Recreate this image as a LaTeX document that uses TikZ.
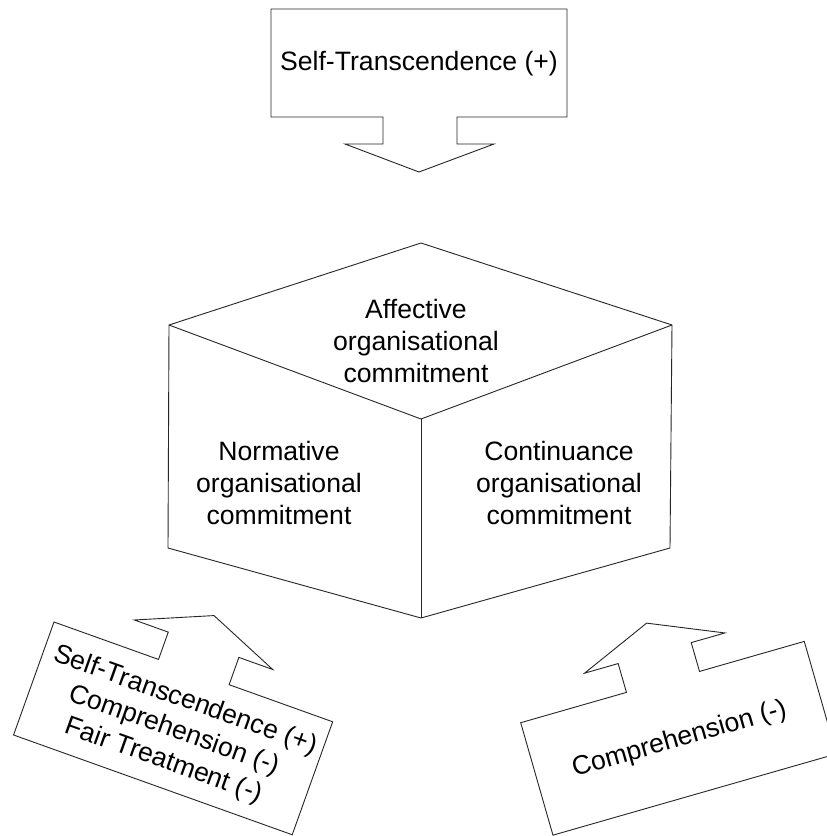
\documentclass[tikz,border=0pt]{standalone}
\usepackage{fontspec}
\setmainfont{Liberation Sans}
\begin{document}
\begin{tikzpicture}[x=1pt,y=-1pt,
  lbl/.style={font=\fontsize{26.6}{32}\selectfont, align=center, inner sep=0pt},
  shapeline/.style={draw=black!85, line width=0.9pt, line join=miter}]
\useasboundingbox (0,0) rectangle (827,836);
\fill[white] (0,0) rectangle (827,836);
\clip (0,0) rectangle (827,836);

% cube
\coordinate (T) at (421,243);
\coordinate (L) at (169,325);
\coordinate (R) at (672,325);
\coordinate (C) at (421,419);
\coordinate (LB) at (168,548);
\coordinate (RB) at (670,548);
\coordinate (B) at (421,618);
\draw[shapeline] (L) -- (T) -- (R) -- (RB) -- (B) -- (LB) -- cycle;
\draw[shapeline] (L) -- (C) -- (R);
\draw[shapeline] (C) -- (B);
\node[lbl] (aff) at (416,341) {Affective\\organisational\\commitment};
\node[lbl] (norm) at (279,483) {Normative\\organisational\\commitment};
\node[lbl] (cont) at (559,483) {Continuance\\organisational\\commitment};

% top callout (arrow down)
\begin{scope}[shift={(271,9)}]
\draw[shapeline] (0,0) -- (296,0) -- (296,108) -- (186,108) -- (186,135) -- (223,135)
  -- (148,163) -- (74,135) -- (112,135) -- (112,108) -- (0,108) -- cycle;
\node[lbl] (st) at (148,55) {Self-Transcendence (+)};
\end{scope}

% bottom-left callout (arrow up)
\begin{scope}[shift={(54,622)}, rotate=-19.7, transform shape]
\draw[shapeline] (0,0) -- (111,0) -- (111,-29) -- (75,-29) -- (148.5,-60) -- (222,-29)
  -- (186,-29) -- (186,0) -- (296,0) -- (296,120) -- (0,120) -- cycle;
\node[lbl] (bl) at (150,62) {Self-Transcendence (+)\\Comprehension (-)\\Fair Treatment (-)};
\end{scope}

% bottom-right callout (arrow up)
\begin{scope}[shift={(520.7,722.7)}, rotate=16, transform shape]
\draw[shapeline] (0,0) -- (110,0) -- (110,-30) -- (75,-30) -- (148.5,-61) -- (221,-30)
  -- (186,-30) -- (186,0) -- (295,0) -- (295,117) -- (0,117) -- cycle;
\node[lbl] (br) at (148,60) {Comprehension (-)};
\end{scope}
\end{tikzpicture}
\end{document}
